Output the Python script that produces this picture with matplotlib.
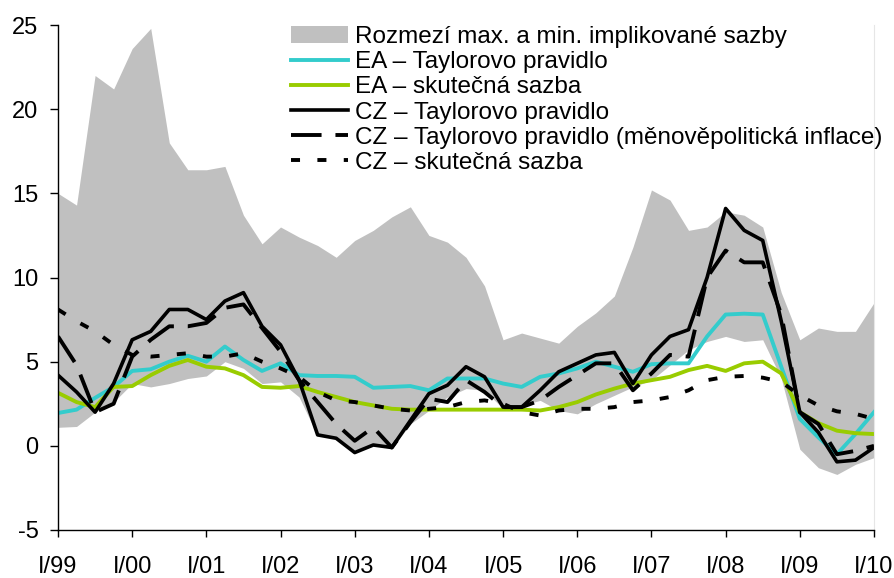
import numpy as np
import matplotlib
matplotlib.use("Agg")
import matplotlib.pyplot as plt

plt.rcParams['font.family'] = ['Liberation Sans', 'DejaVu Sans']
plt.rcParams['lines.scale_dashes'] = False
plt.rcParams['axes.unicode_minus'] = False

# quarters I/99 .. I/10
years = ['99', '00', '01', '02', '03', '04', '05', '06', '07', '08', '09', '10']
tick_labels = ['I/' + y for y in years]

band_max = [15.0, 14.3, 22.0, 21.2, 23.6, 24.8, 18.0, 16.4, 16.4, 16.6, 13.7, 12.0,
            13.0, 12.4, 11.9, 11.2, 12.2, 12.8, 13.6, 14.2, 12.5, 12.1, 11.2, 9.5,
            6.3, 6.7, 6.4, 6.1, 7.1, 7.9, 8.9, 11.8, 15.2, 14.6, 12.8, 13.0,
            13.9, 13.7, 13.0, 9.1, 6.3, 7.0, 6.8, 6.8, 8.5]
band_min = [1.1, 1.15, 2.0, 2.6, 3.7, 3.5, 3.7, 4.0, 4.15, 5.0, 4.6, 3.7,
            3.8, 2.9, 0.6, 0.45, -0.4, 0.0, -0.15, 1.3, 2.1, 2.9, 3.4, 3.3,
            2.2, 2.4, 2.7, 2.1, 1.9, 2.5, 3.0, 3.5, 3.9, 4.8, 5.7, 6.2,
            6.5, 6.2, 6.3, 4.0, -0.2, -1.3, -1.7, -1.1, -0.7]
ea_taylor = [1.95, 2.15, 2.85, 3.5, 4.45, 4.55, 5.0, 5.35, 5.0, 5.9, 5.1, 4.45,
             4.9, 4.2, 4.15, 4.15, 4.1, 3.45, 3.5, 3.55, 3.3, 4.0, 4.0, 4.0,
             3.7, 3.5, 4.1, 4.3, 4.6, 5.0, 4.7, 4.4, 4.85, 4.9, 4.9, 6.5,
             7.8, 7.85, 7.8, 4.7, 1.6, 0.5, -0.5, 0.7, 2.0]
ea_actual = [3.15, 2.6, 2.3, 3.5, 3.55, 4.2, 4.75, 5.1, 4.7, 4.6, 4.2, 3.5,
             3.45, 3.55, 3.2, 2.9, 2.6, 2.4, 2.2, 2.15, 2.15, 2.15, 2.15, 2.15,
             2.15, 2.15, 2.1, 2.3, 2.6, 3.05, 3.4, 3.7, 3.9, 4.1, 4.5, 4.75,
             4.45, 4.9, 5.0, 4.3, 2.0, 1.35, 0.9, 0.75, 0.7]
cz_taylor = [4.2, 3.2, 2.0, 3.7, 6.3, 6.8, 8.1, 8.1, 7.5, 8.6, 9.1, 7.1,
             6.0, 3.9, 0.65, 0.45, -0.4, 0.05, -0.1, 1.5, 3.1, 3.6, 4.7, 4.1,
             2.3, 2.3, 3.3, 4.4, 4.9, 5.4, 5.55, 3.7, 5.4, 6.5, 6.9, 10.0,
             14.1, 12.8, 12.2, 7.4, 2.0, 0.8, -0.95, -0.85, -0.1]
cz_taylor_mp = [6.5, 4.8, 2.0, 2.5, 5.3, 6.3, 7.1, 7.1, 7.3, 8.2, 8.4, 7.0,
                5.6, 3.9, 2.6, 1.3, 0.3, 1.1, -0.1, 1.4, 2.8, 2.6, 3.9, 3.2,
                2.3, 2.3, 2.7, 3.5, 4.2, 4.9, 4.9, 3.3, 4.3, 5.4, 5.3, 10.0,
                11.6, 10.9, 10.9, 7.8, 2.0, 1.3, -0.5, -0.3, 0.0]
cz_actual = [8.1, 7.4, 6.8, 6.0, 5.4, 5.3, 5.4, 5.5, 5.3, 5.3, 5.5, 5.0,
             4.6, 4.1, 3.2, 2.7, 2.6, 2.4, 2.2, 2.1, 2.2, 2.3, 2.6, 2.7,
             2.5, 2.0, 1.8, 2.1, 2.2, 2.2, 2.3, 2.6, 2.7, 2.9, 3.3, 3.9,
             4.1, 4.15, 4.05, 3.8, 3.0, 2.4, 2.05, 1.9, 1.6]

x = np.arange(len(band_max))

fig = plt.figure(figsize=(8.95, 5.78), dpi=100)
ax = fig.add_axes([58 / 895, 48 / 578, 816 / 895, 505 / 578])

ax.fill_between(x, band_min, band_max, color='#c0c0c0', lw=0,
                label='Rozmezí max. a min. implikované sazby')
ax.plot(x, ea_taylor, color='#33cccc', lw=2.8, label='EA – Taylorovo pravidlo')
ax.plot(x, ea_actual, color='#99cc00', lw=2.8, label='EA – skutečná sazba')
ax.plot(x, cz_taylor, color='black', lw=2.6, label='CZ – Taylorovo pravidlo')
ax.plot(x, cz_taylor_mp, color='black', lw=2.8, ls=(0, (22, 10)),
        label='CZ – Taylorovo pravidlo (měnověpolitická inflace)')
ax.plot(x, cz_actual, color='black', lw=2.8, ls=(0, (6.5, 12.5)),
        label='CZ – skutečná sazba')

ax.set_xlim(0, 44)
ax.set_ylim(-5, 25)
ax.set_yticks(range(-5, 26, 5))
ax.set_xticks(range(0, 45, 4))
ax.set_xticklabels(tick_labels)

ax.spines['top'].set_visible(False)
ax.spines['right'].set_color('#e6e6e6')
ax.spines['right'].set_linewidth(0.8)
ax.spines['left'].set_linewidth(1.0)
ax.spines['bottom'].set_linewidth(1.0)
ax.tick_params(axis='y', direction='out', length=6, width=1, pad=8, labelsize=17)
ax.tick_params(axis='x', direction='out', length=5, width=1, pad=14, labelsize=17)

leg = fig.legend(loc='upper left', bbox_to_anchor=(291 / 895, 1 - 26 / 578),
                 frameon=False, fontsize=17.5, handlelength=2.35, handletextpad=0.28,
                 labelspacing=0.13, borderpad=0, borderaxespad=0, handleheight=0.7)

fig.savefig('out.png', dpi=100)
